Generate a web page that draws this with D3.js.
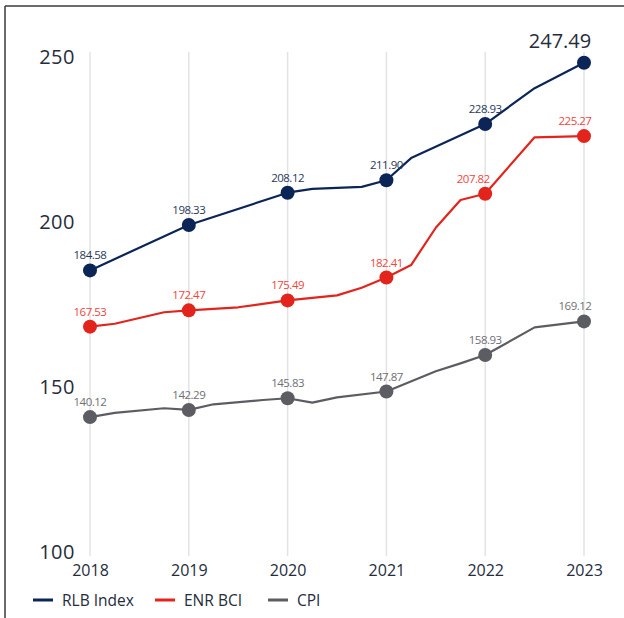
<!DOCTYPE html>
<html>
<head>
<meta charset="utf-8">
<script src="https://cdn.jsdelivr.net/npm/d3@7"></script>
<style>
  html, body { margin: 0; padding: 0; background: #fff; }
  svg { display: block; font-family: "Open Sans", "Noto Sans", sans-serif; }
</style>
</head>
<body>
<svg id="chart" width="624" height="618"></svg>
<script>
// Annual points (labelled) for each index
const years = [2018, 2019, 2020, 2021, 2022, 2023];
const rlbAnnual = [184.58, 198.33, 208.12, 211.90, 228.93, 247.49];
const enrAnnual = [167.53, 172.47, 175.49, 182.41, 207.82, 225.27];
const cpiAnnual = [140.12, 142.29, 145.83, 147.87, 158.93, 169.12];

// Interim (unlabelled) readings that shape the lines between years
const rlbPeriods = [2018, 2019, 2020, 2020.25, 2020.75, 2021, 2021.25, 2022, 2022.5, 2023];
const rlbValues  = [184.58, 198.33, 208.12, 209.3, 209.9, 211.90, 218.6, 228.93, 239.8, 247.49];

const enrPeriods = [2018, 2018.25, 2018.75, 2019, 2019.5, 2020, 2020.5, 2020.75, 2021, 2021.25, 2021.5, 2021.75, 2022, 2022.5, 2023];
const enrValues  = [167.53, 168.4, 171.9, 172.47, 173.4, 175.49, 177.0, 179.3, 182.41, 186.2, 197.5, 205.9, 207.82, 224.9, 225.27];

const cpiPeriods = [2018, 2018.25, 2018.75, 2019, 2019.25, 2019.75, 2020, 2020.25, 2020.5, 2021, 2021.5, 2021.75, 2022, 2022.5, 2023];
const cpiValues  = [140.12, 141.4, 142.8, 142.29, 144.0, 145.3, 145.83, 144.5, 146.1, 147.87, 154.0, 156.4, 158.93, 167.3, 169.12];

const yTicks = [100, 150, 200, 250];
const seriesNames = ["RLB Index", "ENR BCI", "CPI"];

const series = [
  { name: seriesNames[0], periods: rlbPeriods, values: rlbValues, annual: rlbAnnual,
    color: "#0c2557", labelColor: "#2a3958" },
  { name: seriesNames[1], periods: enrPeriods, values: enrValues, annual: enrAnnual,
    color: "#e3241d", labelColor: "#ef4640" },
  { name: seriesNames[2], periods: cpiPeriods, values: cpiValues, annual: cpiAnnual,
    color: "#5c5d62", labelColor: "#6f7074" }
];

const svg = d3.select("#chart");
const textColor = "#252c3c";

// Frame: top and left rules
svg.append("line").attr("x1", 5).attr("x2", 624).attr("y1", 6).attr("y2", 6)
  .attr("stroke", "#3a3a3a").attr("stroke-width", 1.5);
svg.append("line").attr("x1", 5).attr("x2", 5).attr("y1", 6).attr("y2", 618)
  .attr("stroke", "#3a3a3a").attr("stroke-width", 1.5);

const x = d3.scaleLinear().domain([2018, 2023]).range([90, 584]);
const y = d3.scaleLinear().domain([100, 250]).range([549.5, 54.5]);

// Vertical year gridlines
svg.append("g").selectAll("line").data(years).join("line")
  .attr("x1", d => x(d)).attr("x2", d => x(d))
  .attr("y1", 52).attr("y2", 556)
  .attr("stroke", "#e3e3e3").attr("stroke-width", 1.5);

// Y axis (labels only)
const yAxis = d3.axisLeft(y).tickValues(yTicks).tickSize(0).tickPadding(0);
const gy = svg.append("g").attr("transform", "translate(75,3)").call(yAxis);
gy.select(".domain").remove();
gy.selectAll("text").attr("font-size", 20).attr("fill", textColor)
  .attr("letter-spacing", 0.5)
  .attr("font-family", "'Open Sans', sans-serif");

// X axis (labels only)
const xAxis = d3.axisBottom(x).tickValues(years).tickFormat(d3.format("d")).tickSize(0).tickPadding(0);
const gx = svg.append("g").attr("transform", "translate(0,565)").call(xAxis);
gx.select(".domain").remove();
gx.selectAll("text").attr("font-size", 16).attr("fill", textColor)
  .attr("font-family", "'Open Sans', sans-serif");

const line = d3.line().x(d => x(d[0])).y(d => y(d[1]));

series.forEach(s => {
  const pts = s.periods.map((p, i) => [p, s.values[i]]);
  svg.append("path").datum(pts)
    .attr("d", line).attr("fill", "none")
    .attr("stroke", s.color).attr("stroke-width", 2.2)
    .attr("stroke-linejoin", "round");

  const annualPts = years.map((yr, i) => ({
    year: yr, value: s.annual[i],
    last: i === years.length - 1,
    headline: i === years.length - 1 && s.name === "RLB Index",
    // the steep ENR climb after 2022 would run through a centred label
    nudge: i === years.length - 1 ? -9 : (s.name === "ENR BCI" && i === 4 ? -12 : 0)
  }));
  svg.append("g").selectAll("circle").data(annualPts).join("circle")
    .attr("cx", d => x(d.year)).attr("cy", d => y(d.value)).attr("r", 7)
    .attr("fill", s.color);

  svg.append("g").selectAll("text").data(annualPts).join("text")
    .attr("x", d => x(d.year) + (d.headline ? -24 : d.nudge))
    .attr("y", d => y(d.value) - (d.headline ? 15 : 11))
    .attr("text-anchor", "middle")
    .attr("font-size", d => d.headline ? 20 : 11.5)
    .attr("letter-spacing", d => d.headline ? 0 : -0.5)
    .attr("fill", d => d.headline ? textColor : s.labelColor)
    .text(d => d.value.toFixed(2));
});

// Legend
const legend = svg.append("g").attr("transform", "translate(0,600)");
const legendX = [33, 155, 268];
series.forEach((s, i) => {
  legend.append("line").attr("x1", legendX[i]).attr("x2", legendX[i] + 20)
    .attr("y1", 0).attr("y2", 0).attr("stroke", s.color).attr("stroke-width", 3);
  legend.append("text").attr("x", legendX[i] + 29).attr("y", 5.5)
    .attr("font-size", 15.5).attr("fill", textColor).text(s.name);
});
</script>
</body>
</html>
